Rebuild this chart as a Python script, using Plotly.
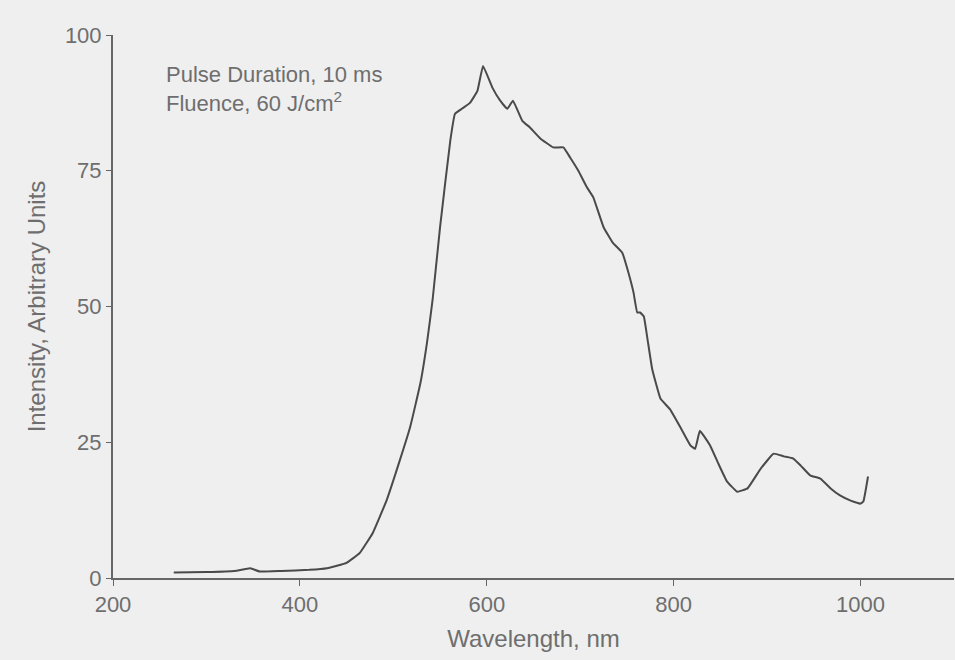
import plotly.graph_objects as go

wavelength = [265, 300, 330, 347, 357, 380, 410, 429, 450, 464, 478, 493, 507, 518, 529, 536, 542,
              550, 561, 566, 574, 582, 590, 596, 606, 614, 622, 628, 638, 646, 657, 671, 682, 689,
              698, 707, 714, 725, 735, 745, 752, 757, 761, 764, 768, 772, 777, 786, 796, 808, 818,
              823, 828, 833, 839, 848, 857, 868, 879, 893, 907, 918, 928, 936, 946, 957, 968, 978,
              990, 1000, 1003, 1008]
intensity = [1.0, 1.1, 1.3, 1.8, 1.2, 1.3, 1.5, 1.8, 2.8, 4.6, 8.3, 14.4, 21.7, 27.8, 35.9, 43.3, 51.2,
             64.6, 80.6, 85.5, 86.5, 87.5, 89.7, 94.3, 90.3, 88.0, 86.4, 87.9, 84.2, 83.0, 81.0, 79.3, 79.3, 77.5,
             75.0, 72.0, 70.1, 64.6, 61.7, 59.9, 56.0, 52.6, 48.9, 48.9, 48.2, 44.0, 38.5, 33.0, 31.1, 27.5, 24.4,
             23.8, 27.1, 26.0, 24.4, 21.0, 17.8, 15.9, 16.5, 20.1, 22.9, 22.4, 22.0, 20.7, 18.9, 18.3, 16.5, 15.2,
             14.2, 13.7, 14.1, 18.7]

x_ticks = [200, 400, 600, 800, 1000]
y_ticks = [0, 25, 50, 75, 100]
note_lines = ["Pulse Duration, 10 ms", "Fluence, 60 J/cm<sup>2</sup>"]

FONT = "Liberation Sans, Arial"
TXT = "#6e6e6e"
BG = "#efefef"

fig = go.Figure()
fig.add_trace(go.Scatter(x=wavelength, y=intensity, mode="lines",
                         line=dict(color="#4a4a4a", width=2, shape="spline", smoothing=0.3),
                         showlegend=False, hoverinfo="skip"))

for i, line in enumerate(note_lines):
    fig.add_annotation(x=0.061, y=0.927 - i * 0.05, xref="paper", yref="paper",
                       xanchor="left", yanchor="middle", align="left", showarrow=False,
                       text=line, font=dict(family=FONT, size=22, color=TXT))

fig.update_layout(
    width=955, height=660,
    paper_bgcolor=BG, plot_bgcolor=BG,
    margin=dict(l=113, r=1, t=35, b=82),
    font=dict(family=FONT, size=22, color=TXT),
    xaxis=dict(range=[200, 1100], tickvals=x_ticks, showgrid=False, zeroline=False,
               showline=True, linecolor="#666666", linewidth=2,
               ticks="outside", ticklen=6, tickcolor="#666666",
               tickfont=dict(family=FONT, size=22, color=TXT),
               title=dict(text="Wavelength, nm", font=dict(family=FONT, size=24, color=TXT), standoff=14)),
    yaxis=dict(range=[0, 100], tickvals=y_ticks, showgrid=False, zeroline=False,
               showline=True, linecolor="#666666", linewidth=2,
               ticks="outside", ticklen=5, tickcolor="#666666",
               tickfont=dict(family=FONT, size=22, color=TXT),
               title=dict(text="Intensity, Arbitrary Units", font=dict(family=FONT, size=24, color=TXT), standoff=12)),
)

fig.write_html("out.html", config={"displayModeBar": False},
               post_script="document.body.style.margin='0';document.body.style.overflow='hidden';")
